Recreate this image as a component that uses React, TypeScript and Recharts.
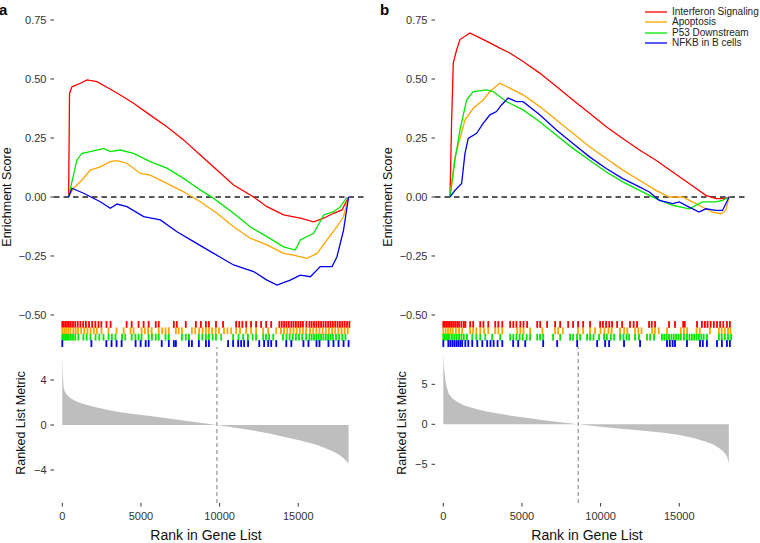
import React from "react";
import { ComposedChart, Line, Scatter, XAxis, YAxis, ReferenceLine, Area, Legend } from "recharts";

// ---------- data ----------
const SET_NAMES = ["Interferon Signaling", "Apoptosis", "P53 Downstream", "NFKB in B cells"];
const SET_COLORS = ["#FF0000", "#FFA500", "#00E800", "#0000F0"];

const ES_TICKS = [0.75, 0.5, 0.25, 0, -0.25, -0.5];
const RANK_TICKS = [0, 5000, 10000, 15000];
const METRIC_TICKS_A = [-4, 0, 4];
const METRIC_TICKS_B = [-5, 0, 5];

// Panel a – running enrichment scores
const redA_rank = [400, 460, 615, 1145, 1570, 2200, 2840, 3690, 4530, 5590, 6650, 7710, 8770, 9830, 10890, 12160, 13010, 14070, 15130, 15980, 16620, 17250, 17780, 18200];
const redA_es = [0, 0.44, 0.467, 0.482, 0.496, 0.489, 0.465, 0.432, 0.397, 0.347, 0.298, 0.242, 0.178, 0.114, 0.051, 0, -0.041, -0.076, -0.09, -0.105, -0.09, -0.069, -0.055, 0];
const orangeA_rank = [400, 720, 1250, 1780, 2415, 3050, 3480, 4110, 4960, 5590, 6650, 7710, 8770, 9830, 10890, 11950, 13010, 14070, 14700, 15560, 16190, 16830, 17460, 17880, 18200];
const orangeA_es = [0, 0.037, 0.072, 0.114, 0.128, 0.15, 0.154, 0.143, 0.1, 0.093, 0.058, 0.022, -0.02, -0.069, -0.126, -0.175, -0.203, -0.239, -0.246, -0.26, -0.239, -0.182, -0.126, -0.083, 0];
const greenA_rank = [400, 615, 930, 1250, 1780, 2630, 3050, 3690, 4530, 5590, 6650, 7710, 8770, 9620, 10890, 11950, 13010, 14070, 14810, 15130, 15980, 16620, 17250, 17670, 18100];
const greenA_es = [0, 0.065, 0.157, 0.185, 0.192, 0.206, 0.192, 0.199, 0.185, 0.15, 0.122, 0.079, 0.03, -0.006, -0.069, -0.126, -0.168, -0.211, -0.225, -0.182, -0.154, -0.076, -0.062, -0.042, 0];
const blueA_rank = [400, 615, 1355, 2415, 3050, 3480, 4110, 5170, 6230, 7290, 8350, 9620, 10890, 12160, 13010, 13650, 14490, 15130, 15770, 16400, 17150, 17460, 17880, 18200];
const blueA_es = [0, 0.037, 0.016, -0.02, -0.048, -0.03, -0.041, -0.083, -0.097, -0.147, -0.189, -0.239, -0.288, -0.316, -0.352, -0.373, -0.352, -0.331, -0.338, -0.295, -0.295, -0.253, -0.14, 0];

// Panel b – running enrichment scores
const redB_rank = [425, 530, 635, 850, 1060, 1690, 2325, 2960, 3590, 4230, 5070, 6130, 7190, 8240, 9300, 10360, 11410, 12470, 13520, 14580, 15630, 16690, 17330, 17850, 18170];
const redB_es = [0, 0.326, 0.568, 0.624, 0.667, 0.695, 0.674, 0.653, 0.631, 0.61, 0.574, 0.525, 0.468, 0.411, 0.355, 0.298, 0.248, 0.199, 0.156, 0.106, 0.057, 0.007, -0.007, -0.007, 0];
const orangeB_rank = [425, 740, 1060, 1375, 1900, 2535, 2960, 3590, 4230, 5070, 6130, 7190, 8240, 9300, 10360, 11410, 12470, 13520, 14370, 15210, 16060, 16690, 17110, 17640, 17960, 18170];
const orangeB_es = [0, 0.17, 0.248, 0.326, 0.376, 0.411, 0.447, 0.482, 0.461, 0.433, 0.383, 0.326, 0.27, 0.213, 0.163, 0.114, 0.071, 0.028, 0, 0, -0.028, -0.05, -0.064, -0.071, -0.057, 0];
const greenB_rank = [425, 740, 1060, 1480, 1900, 2750, 3170, 4020, 5070, 6130, 7190, 8240, 9300, 10360, 11410, 12470, 13520, 14580, 15630, 16480, 17330, 17750, 18170];
const greenB_es = [0, 0.156, 0.284, 0.411, 0.447, 0.454, 0.447, 0.404, 0.369, 0.319, 0.262, 0.206, 0.156, 0.106, 0.064, 0.028, -0.007, -0.035, -0.05, -0.021, -0.021, -0.014, 0];
const blueB_rank = [425, 740, 1165, 1375, 1585, 2115, 2535, 2960, 3380, 3700, 4120, 4650, 5070, 6130, 7190, 8240, 9300, 10360, 11410, 12470, 13100, 13730, 14580, 15000, 15630, 16260, 16690, 17330, 17750, 18170];
const blueB_es = [0, 0.028, 0.057, 0.184, 0.248, 0.27, 0.312, 0.348, 0.362, 0.39, 0.419, 0.404, 0.404, 0.348, 0.284, 0.227, 0.17, 0.121, 0.078, 0.043, 0.021, -0.014, -0.028, -0.021, -0.043, -0.064, -0.05, -0.057, -0.057, 0];

// Gene-set hit positions (rug)
const redA_hits = [0, 90, 190, 300, 420, 540, 680, 820, 980, 1150, 1330, 1500, 1700, 1900, 2100, 2300, 2480, 2810, 3070, 4090, 4410, 4850, 5170, 5490, 5940, 6130, 7090, 7280, 7850, 8490, 8810, 9130, 9320, 9770, 10220, 11050, 11250, 11450, 11690, 12000, 12320, 12640, 12960, 13280, 13800, 13950, 14100, 14250, 14400, 14560, 14700, 14850, 15000, 15150, 15300, 15520, 15710, 15850, 16000, 16150, 16300, 16450, 16600, 16750, 16900, 17050, 17200, 17350, 17500, 17650, 17800, 17950, 18100, 18250];
const orangeA_hits = [0, 120, 250, 380, 520, 700, 850, 1000, 1200, 1400, 1600, 1800, 2000, 2200, 2490, 2940, 3450, 3900, 4340, 4530, 5040, 5250, 5450, 5680, 6130, 6350, 6560, 6770, 7220, 7400, 7600, 8240, 8450, 8700, 8920, 9130, 9320, 9520, 9750, 9960, 10280, 10500, 10730, 11050, 11300, 11690, 12000, 12320, 12770, 13090, 13600, 13900, 14100, 14300, 14500, 14700, 14900, 15100, 15300, 15500, 15750, 15950, 16150, 16350, 16550, 16750, 16950, 17150, 17350, 17550, 17750, 17950, 18150];
const greenA_hits = [0, 100, 200, 300, 420, 550, 680, 820, 1020, 1340, 1550, 1790, 2110, 2350, 2620, 2940, 3150, 3380, 3800, 4000, 4410, 4650, 4850, 5040, 5490, 5700, 5940, 6130, 6560, 6770, 7600, 7850, 8050, 8680, 8900, 9130, 9320, 9560, 9770, 10100, 10860, 11200, 11500, 11800, 12100, 12320, 12770, 12950, 13150, 13410, 14030, 14250, 14450, 14650, 14850, 15050, 15250, 15500, 15710, 15850, 16000, 16150, 16300, 16450, 16600, 16750, 16900, 17050, 17200, 17400, 17600, 17800, 18000];
const blueA_hits = [0, 1850, 2800, 3130, 3450, 3770, 4660, 4980, 5300, 5490, 6320, 6770, 7090, 7220, 8050, 8240, 8680, 9130, 9320, 10540, 10860, 11180, 11370, 11560, 11810, 12520, 12830, 13090, 13280, 13600, 14240, 14560, 15330, 15650, 16160, 16350, 16920, 17240, 17560, 17880, 18200];

const redB_hits = [0, 100, 200, 300, 400, 500, 620, 750, 880, 1000, 1150, 1300, 1400, 1710, 1900, 2350, 2550, 2860, 3300, 3500, 3750, 4250, 4450, 4650, 4900, 5100, 5330, 5970, 6160, 6600, 7110, 7430, 7940, 8250, 8570, 8890, 9330, 9970, 10150, 10350, 10550, 10730, 11050, 11370, 11870, 12100, 12320, 13080, 13250, 13460, 14350, 14730, 15250, 15350, 16130, 16440, 16630, 16800, 17000, 17200, 17400, 17600, 17800, 18030, 18220];
const orangeB_hits = [0, 150, 300, 450, 600, 800, 1000, 1200, 1700, 1900, 2100, 2350, 2600, 2860, 3300, 3500, 3750, 4700, 4900, 5100, 5520, 6300, 7100, 7300, 7600, 8570, 8890, 9330, 9650, 10000, 10250, 10500, 10700, 11240, 11500, 11700, 12190, 12400, 12600, 13280, 13460, 13700, 14220, 15100, 15300, 15500, 16100, 16300, 16950, 17520, 17700, 17900, 18100, 18250];
const greenB_hits = [0, 100, 200, 300, 400, 550, 700, 850, 1000, 1150, 1300, 1500, 1840, 2100, 2350, 2670, 3110, 3620, 4250, 4450, 4650, 4850, 5050, 5300, 5520, 5970, 6150, 6350, 6980, 7430, 8060, 8250, 8500, 8700, 9140, 9330, 9550, 9900, 10220, 10400, 10650, 10860, 11240, 11450, 11650, 11810, 12190, 12440, 12950, 13150, 13400, 13900, 14050, 14200, 14350, 14500, 14650, 14800, 14950, 15100, 15300, 15490, 15650, 15800, 15950, 16100, 16250, 16400, 16550, 16760, 17520, 17700, 17900, 18100, 18300];
const blueB_hits = [0, 320, 450, 580, 700, 830, 950, 1080, 1200, 1400, 1590, 1840, 2160, 2480, 2790, 3000, 3200, 3450, 3750, 4440, 4760, 5210, 6350, 7240, 8510, 9780, 10290, 10540, 11490, 12510, 14220, 14400, 14580, 14730, 15490, 16320, 16500, 16760, 17400, 17710, 18030, 18220];

// Ranked list metric
const metricA_rank = [0, 30, 80, 150, 300, 550, 930, 1400, 1990, 2700, 3480, 4500, 5590, 6650, 7710, 8770, 9830, 10890, 11950, 13010, 14070, 15130, 16190, 16700, 17250, 17600, 17880, 18050, 18200];
const metricA_val = [6.07, 4.6, 3.4, 3.0, 2.67, 2.35, 2.07, 1.85, 1.63, 1.4, 1.18, 0.98, 0.8, 0.6, 0.39, 0.2, 0, -0.22, -0.44, -0.72, -1.04, -1.38, -1.78, -2.05, -2.37, -2.65, -2.96, -3.2, -3.41];
const metricB_rank = [0, 50, 130, 220, 340, 550, 870, 1300, 1920, 2600, 3400, 4400, 5510, 6400, 7200, 7900, 8580, 9700, 10800, 11850, 12910, 14000, 15020, 15900, 16710, 17200, 17550, 17850, 18050, 18150];
const metricB_val = [8.9, 7.0, 5.5, 4.6, 3.87, 3.3, 2.83, 2.4, 2.0, 1.68, 1.37, 1.05, 0.75, 0.52, 0.33, 0.16, 0, -0.23, -0.46, -0.65, -0.83, -1.05, -1.33, -1.7, -2.17, -2.55, -3.0, -3.5, -4.1, -4.87];

const ZERO_CROSS_A = 9830;
const ZERO_CROSS_B = 8580;

// ---------- layout / style constants ----------
const FONT = "'Liberation Sans', Arial, Helvetica, sans-serif";
const X_DOMAIN: [number, number] = [-528, 19180];
const ES_DOMAIN: [number, number] = [-0.6356, 0.8008];
const RUG_LEVELS = [-0.54, -0.567, -0.594, -0.621];
const CHART_W = 372;
const ES_H = 347;
const METRIC_H = 196;

const zip = (ranks: number[], vals: number[], key: string) => ranks.map((r, i) => ({ rank: r, [key]: vals[i] }));

const fmtSigned = (v: number, digits: number) => {
  const s = Math.abs(v).toFixed(digits);
  return v < 0 ? "\u2212" + s : s;
};

const tickStyle = { fontSize: 11, fill: "#333", fontFamily: FONT };

type PanelProps = {
  left: number;
  letter: string;
  esRanks: number[][];
  esVals: number[][];
  hits: number[][];
  metricRank: number[];
  metricVal: number[];
  metricTicks: number[];
  metricDomain: [number, number];
  zeroCross: number;
  showLegend: boolean;
};

const LegendBox = (props: any) => {
  const payload = (props.payload || [])
    .filter((p: any) => SET_NAMES.indexOf(p.value) >= 0)
    .sort((a: any, b: any) => SET_NAMES.indexOf(a.value) - SET_NAMES.indexOf(b.value));
  return (
    <div style={{ fontFamily: FONT, fontSize: 10, color: "#222", whiteSpace: "nowrap" }}>
      {payload.map((p: any, i: number) => (
        <div key={i} style={{ display: "flex", alignItems: "center", height: 10.3, lineHeight: "10.3px" }}>
          <svg width={22} height={4} style={{ display: "block" }}>
            <line x1={0} y1={2} x2={22} y2={2} stroke={p.color} strokeWidth={1.3} />
          </svg>
          <span style={{ marginLeft: 5 }}>{p.value}</span>
        </div>
      ))}
    </div>
  );
};

function Panel(p: PanelProps) {
  const metricData = zip(p.metricRank, p.metricVal, "metric");
  return (
    <>
      <div style={{ position: "absolute", left: p.left - 1, top: 2, fontFamily: FONT, fontWeight: "bold", fontSize: 15, lineHeight: "15px" }}>
        {p.letter}
      </div>
      <div style={{ position: "absolute", left: p.left, top: 0 }}>
        <ComposedChart width={CHART_W} height={ES_H} margin={{ top: 8, right: 8, bottom: 0, left: 0 }}>
          <XAxis type="number" dataKey="rank" domain={X_DOMAIN} allowDataOverflow hide />
          <YAxis
            type="number"
            domain={ES_DOMAIN}
            allowDataOverflow
            ticks={ES_TICKS}
            interval={0}
            width={54}
            tickSize={3.5}
            tickMargin={4}
            axisLine={false}
            tickLine={{ stroke: "#333" }}
            tick={tickStyle}
            tickFormatter={(v: number) => fmtSigned(v, 2)}
            label={() => (
              <text x={7} y={197} transform="rotate(-90 7 197)" textAnchor="middle" dominantBaseline="central" fontSize={12.5} fill="#111" fontFamily={FONT}>
                Enrichment Score
              </text>
            )}
          />
          <ReferenceLine y={0} stroke="#222" strokeWidth={1.4} strokeDasharray="5.5 4" />
          {SET_NAMES.map((name, i) => (
            <Line
              key={name}
              name={name}
              data={zip(p.esRanks[i], p.esVals[i], "es")}
              dataKey="es"
              type="linear"
              stroke={SET_COLORS[i]}
              strokeWidth={1.3}
              dot={false}
              activeDot={false}
              isAnimationActive={false}
            />
          ))}
          {SET_NAMES.map((name, i) => (
            <Scatter
              key={"rug" + name}
              name={name + " hits"}
              data={p.hits[i].map((r) => ({ rank: r, y: RUG_LEVELS[i] }))}
              dataKey="y"
              legendType="none"
              fill={SET_COLORS[i]}
              isAnimationActive={false}
              shape={(sp: any) => <rect x={sp.cx - 0.9} y={sp.cy - 3.4} width={1.8} height={6.8} fill={SET_COLORS[i]} />}
            />
          ))}
          {p.showLegend && (
            <Legend
              layout="horizontal"
              verticalAlign="middle"
              align="center"
              content={LegendBox}
              wrapperStyle={{ position: "absolute", left: 264, top: 7, width: 130, height: 44 }}
            />
          )}
        </ComposedChart>
      </div>
      <div style={{ position: "absolute", left: p.left, top: ES_H }}>
        <ComposedChart width={CHART_W} height={METRIC_H} data={metricData} margin={{ top: 0, right: 8, bottom: 0, left: 0 }}>
          <XAxis
            type="number"
            dataKey="rank"
            domain={X_DOMAIN}
            allowDataOverflow
            ticks={RANK_TICKS}
            interval={0}
            height={40}
            tickSize={3.5}
            tickMargin={6}
            axisLine={false}
            tickLine={{ stroke: "#333" }}
            tick={tickStyle}
            label={() => (
              <text x={206} y={193} textAnchor="middle" fontSize={14} fill="#111" fontFamily={FONT}>
                Rank in Gene List
              </text>
            )}
          />
          <YAxis
            type="number"
            domain={p.metricDomain}
            allowDataOverflow
            ticks={p.metricTicks}
            interval={0}
            width={54}
            tickSize={3.5}
            tickMargin={4}
            axisLine={false}
            tickLine={{ stroke: "#333" }}
            tick={tickStyle}
            tickFormatter={(v: number) => fmtSigned(v, 0)}
            label={() => (
              <text x={21} y={76} transform="rotate(-90 21 76)" textAnchor="middle" dominantBaseline="central" fontSize={12.5} fill="#111" fontFamily={FONT}>
                Ranked List Metric
              </text>
            )}
          />
          <Area dataKey="metric" type="linear" baseValue={0} fill="#BEBEBE" fillOpacity={1} stroke="none" isAnimationActive={false} />
          <ReferenceLine x={p.zeroCross} stroke="#9A9A9A" strokeWidth={1.3} strokeDasharray="4 3" />
        </ComposedChart>
      </div>
    </>
  );
}

export default function App() {
  return (
    <div style={{ position: "absolute", left: 0, top: 0, width: 760, height: 543, background: "#fff", overflow: "hidden", fontFamily: FONT }}>
      <Panel
        left={0}
        letter="a"
        esRanks={[redA_rank, orangeA_rank, greenA_rank, blueA_rank]}
        esVals={[redA_es, orangeA_es, greenA_es, blueA_es]}
        hits={[redA_hits, orangeA_hits, greenA_hits, blueA_hits]}
        metricRank={metricA_rank}
        metricVal={metricA_val}
        metricTicks={METRIC_TICKS_A}
        metricDomain={[-6.93, 6.93]}
        zeroCross={ZERO_CROSS_A}
        showLegend={false}
      />
      <Panel
        left={381}
        letter="b"
        esRanks={[redB_rank, orangeB_rank, greenB_rank, blueB_rank]}
        esVals={[redB_es, orangeB_es, greenB_es, blueB_es]}
        hits={[redB_hits, orangeB_hits, greenB_hits, blueB_hits]}
        metricRank={metricB_rank}
        metricVal={metricB_val}
        metricTicks={METRIC_TICKS_B}
        metricDomain={[-9.84, 9.67]}
        zeroCross={ZERO_CROSS_B}
        showLegend={true}
      />
    </div>
  );
}
